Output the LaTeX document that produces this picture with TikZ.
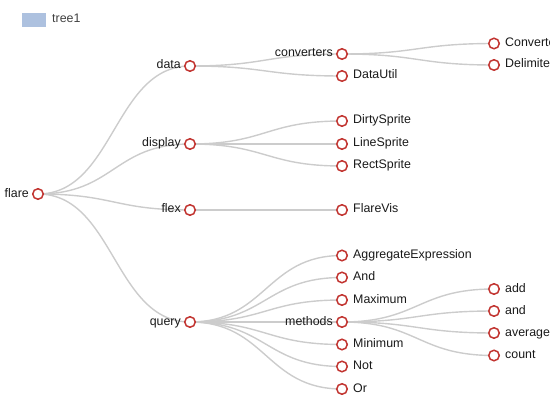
\documentclass[tikz,border=0pt]{standalone}
\usepackage{fontspec}
\setmainfont{Liberation Sans}
\usepackage{xcolor}
\usetikzlibrary{calc, backgrounds}
\definecolor{noderim}{HTML}{C23531}
\definecolor{edgegray}{HTML}{CCCCCC}
\definecolor{legendblue}{HTML}{ADC1DF}
\tikzset{
  treenode/.style={circle, draw=noderim, fill=white, line width=1.5pt,
                   minimum size=10.5pt, inner sep=0pt},
  lbl/.style={font=\fontsize{12.4}{14}\selectfont, text=black!90, inner sep=0pt,
              text height=8.6pt, text depth=2.6pt},
  parentnode/.style={treenode, label={[lbl, label distance=3pt]left:#1}},
  leafnode/.style={treenode, label={[lbl, label distance=5pt]right:#1}},
  edge/.style={draw=edgegray, line width=1.4pt},
}

\begin{document}
\begin{tikzpicture}[x=1pt, y=-1pt]
\useasboundingbox (0,0) rectangle (550,420);
% legend
\fill[legendblue] (22,13) rectangle (46,27);
\node[lbl, anchor=west, text=black!75] (legendtxt) at (52,20) {tree1};
% root and first level
\node[parentnode=flare]    (flare)    at (38,194) {};
\node[parentnode=data]     (data)     at (190,66) {};
\node[parentnode=display]  (display)  at (190,144) {};
\node[parentnode=flex]     (flex)     at (190,210) {};
\node[parentnode=query]    (query)    at (190,322) {};
% second level
\node[parentnode=converters] (conv)   at (342,54) {};
\node[leafnode=DataUtil]   (datautil) at (342,76) {};
\node[leafnode=DirtySprite] (dirty)   at (342,121) {};
\node[leafnode=LineSprite] (linesp)   at (342,144) {};
\node[leafnode=RectSprite] (rectsp)   at (342,166) {};
\node[leafnode=FlareVis]   (flarevis) at (342,210) {};
\node[leafnode=AggregateExpression] (aggexpr) at (342,255.5) {};
\node[leafnode=And]        (andop)    at (342,277.5) {};
\node[leafnode=Maximum]    (maximum)  at (342,300) {};
\node[parentnode=methods]  (methods)  at (342,322) {};
\node[leafnode=Minimum]    (minimum)  at (342,344.5) {};
\node[leafnode=Not]        (notop)    at (342,366.5) {};
\node[leafnode=Or]         (orop)     at (342,389) {};
% third level
\node[leafnode=Converters] (converters) at (494,43.5) {};
\node[leafnode=DelimitedTextConverter] (delimited) at (494,65) {};
\node[leafnode=add]        (add)      at (494,289) {};
\node[leafnode=and]        (andm)     at (494,311) {};
\node[leafnode=average]    (average)  at (494,333) {};
\node[leafnode=count]      (count)    at (494,355.5) {};
% curved links, behind the circles
\begin{scope}[on background layer]
\foreach \a/\b in {flare/data, flare/display, flare/flex, flare/query,
                   data/conv, data/datautil, conv/converters, conv/delimited,
                   display/dirty, display/linesp, display/rectsp, flex/flarevis,
                   query/aggexpr, query/andop, query/maximum, query/methods,
                   query/minimum, query/notop, query/orop,
                   methods/add, methods/andm, methods/average, methods/count}{
  \draw[edge] let \p1=(\a.center), \p2=(\b.center) in
    (\p1) .. controls ({(\x1+\x2)/2},\y1) and ({(\x1+\x2)/2},\y2) .. (\p2);
}
\end{scope}
\end{tikzpicture}
\end{document}
